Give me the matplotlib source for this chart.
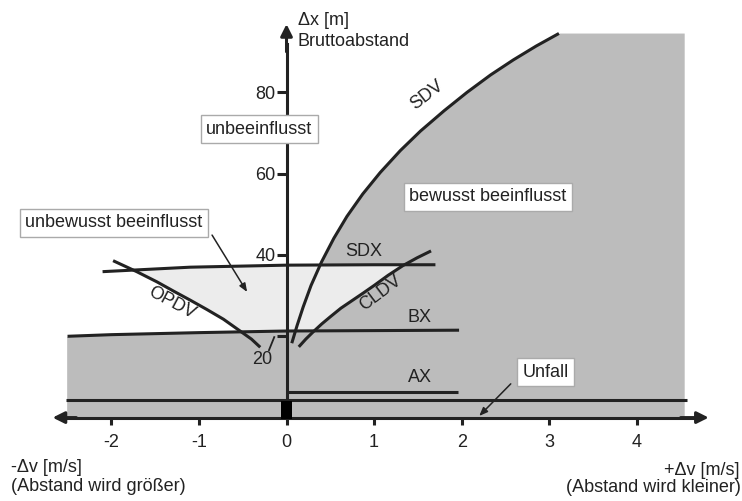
import numpy as np
import matplotlib
matplotlib.use('Agg')
import matplotlib.pyplot as plt

plt.rcParams['font.family'] = ['Liberation Sans', 'DejaVu Sans']

# Kurven (dv [m/s], dx [m])
sdv_x = [0.06, 0.12, 0.19, 0.28, 0.40, 0.54, 0.69, 0.87, 1.07, 1.30, 1.53,
         1.80, 2.06, 2.33, 2.59, 2.85, 3.11]
sdv_y = [18.3, 22.6, 27.2, 32.5, 38.3, 44.1, 49.5, 55.0, 60.3, 65.7, 70.5,
         75.5, 80.0, 84.3, 88.0, 91.4, 94.5]

cldv_x = [0.14, 0.22, 0.30, 0.40, 0.50, 0.62, 0.75, 0.88, 1.00, 1.16, 1.33, 1.49, 1.65]
cldv_y = [17.4, 19.3, 21.0, 23.0, 24.8, 26.9, 28.8, 30.7, 32.5, 35.0, 37.4, 39.3, 41.0]

opdv_x = [-1.98, -1.85, -1.71, -1.48, -1.28, -1.10, -0.91, -0.72, -0.53, -0.40, -0.30]
opdv_y = [38.6, 37.3, 35.9, 33.4, 31.0, 28.9, 26.6, 24.2, 21.3, 19.3, 17.3]

sdx_x = [-2.10, -1.10, 0.0, 1.0, 1.70]
sdx_y = [35.9, 37.0, 37.5, 37.6, 37.6]

bx_x = [-2.50, -2.0, -1.0, 0.0, 1.0, 1.97]
bx_y = [20.0, 20.4, 20.9, 21.3, 21.4, 21.5]

ax_x = [0.0, 1.96]
ax_y = [6.2, 6.2]

unfall_x = [-2.52, 4.57]
unfall_y = [4.3, 4.3]

xticks = [-2, -1, 0, 1, 2, 3, 4]
yticks = [20, 40, 60, 80]
ytick_labels = ['', '40', '60', '80']

gebiet_x = [-2.51, 4.54]   # graues Feld links/rechts
gebiet_top = 94.6

line_c = '#222222'
dark = '#bcbcbc'
light = '#ececec'
lw = 2.2

fig = plt.figure(figsize=(7.42, 5.01), dpi=100)
ax = fig.add_axes([0, 0, 1, 1])
ax.set_xlim(-3.271, 5.200)
ax.set_ylim(-20.52, 102.73)

# dunkles Feld: unterhalb BX und rechts von SDV
xx = np.linspace(gebiet_x[0], gebiet_x[1], 3000)
sdv_ext = np.interp(xx, sdv_x, sdv_y, left=-1e3, right=gebiet_top)
upper = np.maximum(np.interp(xx, bx_x, bx_y), sdv_ext)
ax.fill_between(xx, 0, upper, color=dark, lw=0, zorder=1)

# helles Feld: unbewusst beeinflusst
xl = np.linspace(sdx_x[0], sdx_x[-1], 3000)
up_l = np.interp(xl, sdx_x, sdx_y)
lo_l = np.maximum.reduce([
    np.interp(xl, bx_x, bx_y),
    np.interp(xl, opdv_x, opdv_y, left=200, right=-1e3),
    np.interp(xl, cldv_x, cldv_y, left=-1e3, right=200),
])
ax.fill_between(xl, lo_l, up_l, where=up_l > lo_l, interpolate=True,
                color=light, lw=0, zorder=1.2)

for cx, cy in [(sdv_x, sdv_y), (cldv_x, cldv_y), (opdv_x, opdv_y),
               (sdx_x, sdx_y), (bx_x, bx_y), (ax_x, ax_y), (unfall_x, unfall_y)]:
    ax.plot(cx, cy, color=line_c, lw=lw, solid_capstyle='butt',
            solid_joinstyle='round', zorder=2)

ax.bar(0, 4.3, width=0.12, bottom=-0.3, color='black', zorder=2.6)

# Achsen
for s in ['top', 'right']:
    ax.spines[s].set_visible(False)
ax.spines['left'].set_position(('data', 0))
ax.spines['bottom'].set_position(('data', 0))
ax.spines['left'].set_bounds(0, 92)
ax.spines['bottom'].set_bounds(-2.55, 4.7)
for s in ['left', 'bottom']:
    ax.spines[s].set_linewidth(lw)
    ax.spines[s].set_color(line_c)
    ax.spines[s].set_zorder(2.5)

ax.set_xticks(xticks)
ax.set_xticklabels([str(t) for t in xticks])
ax.set_yticks(yticks)
ax.set_yticklabels(ytick_labels)
ax.tick_params(axis='x', direction='out', length=5, width=lw, color=line_c,
               labelsize=13, labelcolor=line_c, pad=7)
ax.tick_params(axis='y', direction='out', length=7, width=lw, color=line_c,
               labelsize=13, labelcolor=line_c, pad=1)

head = dict(arrowstyle='-|>,head_length=0.7,head_width=0.35', lw=lw,
            color=line_c, shrinkA=0, shrinkB=0)
ax.annotate('', xy=(0, 96.8), xytext=(0, 90), arrowprops=head, zorder=2.6)
ax.annotate('', xy=(-2.67, 0), xytext=(-2.4, 0), arrowprops=head, zorder=2.6)
ax.annotate('', xy=(4.82, 0), xytext=(4.5, 0), arrowprops=head, zorder=2.6)

# 20 mit Hinweislinie
ax.plot([-0.14, -0.20], [19.8, 16.6], color=line_c, lw=1.3, zorder=2)
ax.text(-0.28, 14.2, '20', fontsize=13, color=line_c, ha='center', va='center')

# Kurvenbeschriftung
fs = 13
ax.text(1.60, 79.3, 'SDV', fontsize=fs, color=line_c, rotation=38, ha='center', va='center')
ax.text(0.88, 40.8, 'SDX', fontsize=fs, color=line_c, ha='center', va='center')
ax.text(1.07, 30.6, 'CLDV', fontsize=fs, color=line_c, rotation=37, ha='center', va='center')
ax.text(1.52, 24.6, 'BX', fontsize=fs, color=line_c, ha='center', va='center')
ax.text(1.52, 9.8, 'AX', fontsize=fs, color=line_c, ha='center', va='center')
ax.text(-1.31, 28.1, 'OPDV', fontsize=fs, color=line_c, rotation=-28, ha='center', va='center')

box = dict(boxstyle='square,pad=0.3', fc='white', ec='#aaaaaa', lw=1)
ax.text(-0.31, 70.9, 'unbeeinflusst', fontsize=fs, color=line_c, ha='center',
        va='center', bbox=box, zorder=5)
ax.text(-1.97, 47.9, 'unbewusst beeinflusst', fontsize=fs, color=line_c, ha='center',
        va='center', bbox=box, zorder=5)
ax.text(2.30, 54.3, 'bewusst beeinflusst', fontsize=fs, color=line_c, ha='center',
        va='center', bbox=box, zorder=5)
ax.text(2.96, 11.2, 'Unfall', fontsize=fs, color=line_c, ha='center',
        va='center', bbox=box, zorder=5)

small = dict(arrowstyle='-|>,head_length=0.5,head_width=0.2', lw=1.1,
             color=line_c, shrinkA=0, shrinkB=0)
ax.annotate('', xy=(-0.45, 30.9), xytext=(-0.85, 44.9), arrowprops=small, zorder=3)
ax.annotate('', xy=(2.20, 0.4), xytext=(2.56, 8.3), arrowprops=small, zorder=3)

# Achsentitel
ax.text(0.13, 97.6, '\u0394x [m]', fontsize=fs, color=line_c, ha='left', va='center')
ax.text(0.13, 92.5, 'Bruttoabstand', fontsize=fs, color=line_c, ha='left', va='center')
ax.text(-3.14, -12.4, '-\u0394v [m/s]', fontsize=fs, color=line_c, ha='left', va='center')
ax.text(-3.14, -17.0, '(Abstand wird gr\u00f6\u00dfer)', fontsize=fs, color=line_c,
        ha='left', va='center')
ax.text(5.17, -12.9, '+\u0394v [m/s]', fontsize=fs, color=line_c, ha='right', va='center')
ax.text(5.19, -17.1, '(Abstand wird kleiner)', fontsize=fs, color=line_c,
        ha='right', va='center')

fig.savefig('out.png', dpi=100)
